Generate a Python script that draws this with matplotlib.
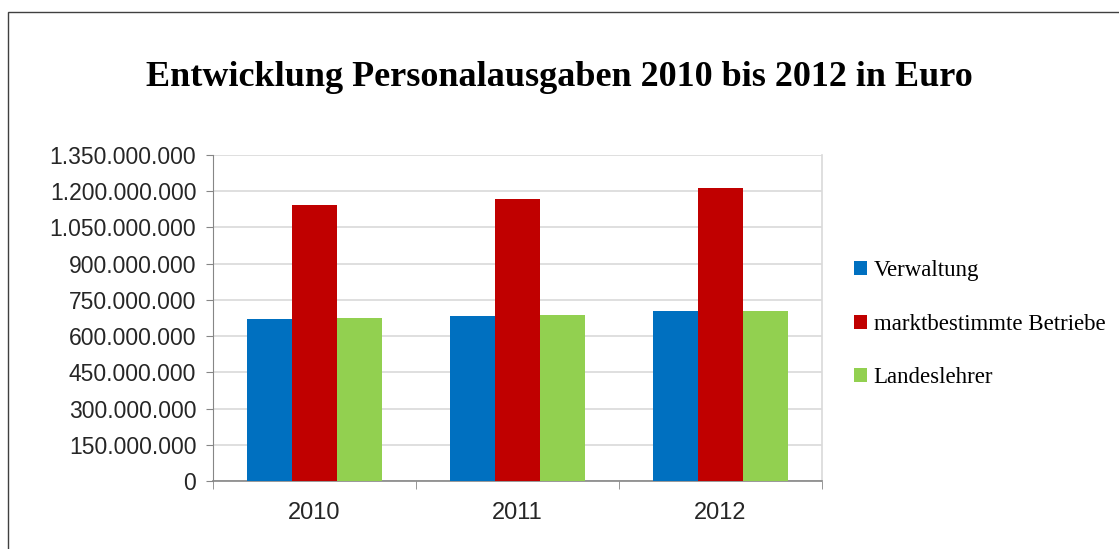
"""
Grouped bar chart: Entwicklung Personalausgaben 2010 bis 2012 in Euro
"""

import numpy as np
import matplotlib.pyplot as plt
from matplotlib.patches import Rectangle
from matplotlib.ticker import FuncFormatter, FixedLocator

# data
years = ['2010', '2011', '2012']
verwaltung = [672_000_000, 682_000_000, 703_000_000]
betriebe = [1_142_000_000, 1_167_000_000, 1_212_000_000]
landeslehrer = [676_000_000, 687_000_000, 703_000_000]
series_names = ['Verwaltung', 'marktbestimmte Betriebe', 'Landeslehrer']
colors = ['#0070c0', '#c00000', '#92d050']
y_ticks = np.arange(0, 1_350_000_001, 150_000_000)


def fmt_de(v, pos=None):
    # German thousands separator
    return f'{int(v):,}'.replace(',', '.')


fig = plt.figure(figsize=(11.19, 5.49), dpi=100)
ax = fig.add_axes([213 / 1119, 1 - 481 / 549, (822 - 213) / 1119, (481 - 155) / 549])

# outer frame of the chart object
fig.patches.append(Rectangle((8 / 1119, -0.1), 1.2, 1 - 12 / 549 + 0.1,
                             transform=fig.transFigure, fill=False,
                             edgecolor='#404040', linewidth=1.0))

x = np.arange(len(years))
width = 1 / 4.5
for i, (vals, name, c) in enumerate(zip([verwaltung, betriebe, landeslehrer], series_names, colors)):
    ax.bar(x + (i - 1) * width, vals, width, color=c, label=name, zorder=3)

ax.set_xlim(-0.5, 2.5)
ax.set_ylim(0, 1_350_000_000)
ax.set_yticks(y_ticks)
ax.yaxis.set_major_formatter(FuncFormatter(fmt_de))
ax.set_xticks(x)
ax.set_xticklabels(years)
ax.xaxis.set_minor_locator(FixedLocator([-0.5, 0.5, 1.5, 2.5]))
ax.tick_params(axis='x', which='major', length=0, pad=15, labelsize=17)
ax.tick_params(axis='x', which='minor', length=6, color='#868686')
ax.tick_params(axis='y', length=5, color='#868686', pad=7, labelsize=16.5)
ax.tick_params(labelcolor='#262626')
for lab in ax.get_xticklabels() + ax.get_yticklabels():
    lab.set_fontfamily('Liberation Sans')

ax.grid(axis='y', color='#d9d9d9', linewidth=1.2, zorder=0)
ax.set_axisbelow(True)
ax.spines['left'].set_color('#868686')
ax.spines['bottom'].set_color('#868686')
ax.spines['bottom'].set_linewidth(1.2)
ax.spines['top'].set_visible(False)
ax.spines['right'].set_color('#d9d9d9')
ax.spines['right'].set_linewidth(1.2)

fig.text(559 / 1119, 1 - 77 / 549, 'Entwicklung Personalausgaben 2010 bis 2012 in Euro',
         ha='center', va='center', fontsize=26, fontweight='bold',
         family='Liberation Serif', color='black')

leg = fig.legend(loc='upper left', bbox_to_anchor=(845 / 1119, 1 - 251 / 549),
                 frameon=False, prop={'family': 'Liberation Serif', 'size': 16.5},
                 handlelength=0.55, handleheight=0.55, handletextpad=0.3,
                 labelspacing=1.42, borderaxespad=0)

fig.savefig('out.png', dpi=100)
